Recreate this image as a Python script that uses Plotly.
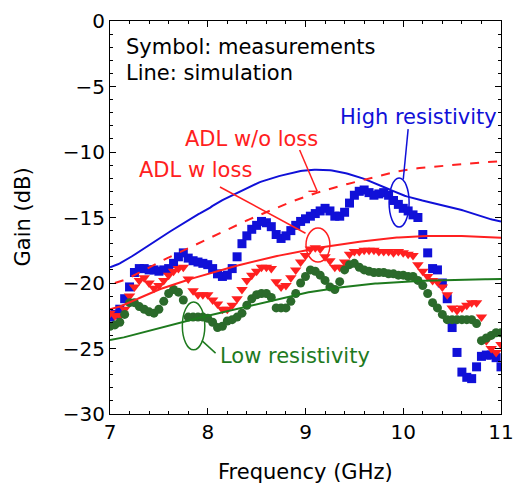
import numpy as np
import plotly.graph_objects as go

# ---------------- data ----------------
freq_meas = [round(7.0 + 0.05 * i, 2) for i in range(81)]

high_meas = [-22.6, -22.4, -22.0, -21.2, -20.3, -19.2, -18.9, -18.9, -19.0, -19.0,
             -19.1, -19.0, -18.9, -18.5, -18.0, -17.7, -18.1, -18.3, -18.4, -18.5,
             -18.6, -18.9, -19.3, -19.5, -19.4, -18.9, -18.0, -17.0, -16.4, -15.9,
             -15.6, -15.3, -15.4, -15.7, -16.3, -16.6, -16.4, -16.0, -15.6, -15.3,
             -15.1, -14.9, -14.7, -14.5, -14.3, -14.5, -14.9, -14.9, -14.6, -13.9,
             -13.3, -13.0, -12.9, -13.1, -13.3, -13.2, -13.1, -13.3, -13.7, -14.0,
             -14.3, -14.5, -14.8, -15.0, -16.3, -17.7, -18.9, -19.0, -20.0, -21.2,
             -23.4, -25.3, -26.8, -27.2, -27.3, -26.4, -25.6, -25.5, -25.5, -25.7,
             -26.4]

wloss_meas = [-22.3, -22.5, -22.5, -22.0, -21.0, -20.3, -19.8, -19.6, -20.0, -20.4,
              -20.2, -19.8, -19.4, -19.1, -18.9, -18.8, -19.7, -20.6, -20.9, -20.9,
              -20.9, -21.3, -21.6, -22.0, -22.0, -21.7, -21.2, -20.5, -19.8, -19.4,
              -19.1, -18.8, -18.8, -18.9, -19.9, -20.3, -20.2, -19.6, -19.0, -18.4,
              -17.9, -17.4, -17.3, -17.4, -18.0, -18.3, -18.8, -18.8, -18.4, -17.8,
              -17.6, -17.6, -17.5, -17.5, -17.5, -17.6, -17.6, -17.6, -17.7, -17.6,
              -17.7, -17.8, -17.9, -18.6, -19.1, -19.5, -19.8, -19.9, -20.3, -20.9,
              -21.9, -22.1, -21.9, -21.7, -21.5, -21.5, -22.6, -24.4, -25.0, -25.3,
              -24.7]

low_meas = [-23.3, -23.2, -23.0, -22.4, -21.5, -21.5, -21.8, -22.0, -22.2, -22.3,
            -22.0, -21.4, -20.8, -20.5, -20.7, -21.3, -22.6, -22.6, -22.6, -22.6,
            -22.7, -23.0, -23.4, -23.3, -22.9, -22.8, -22.6, -22.3, -21.7, -21.2,
            -20.9, -20.8, -20.8, -21.1, -21.9, -21.9, -21.9, -21.4, -20.8, -20.0,
            -19.5, -19.0, -19.1, -19.4, -19.8, -20.3, -20.5, -19.9, -19.0, -18.6,
            -18.5, -18.8, -19.0, -19.1, -19.2, -19.2, -19.2, -19.3, -19.3, -19.4,
            -19.4, -19.5, -19.5, -19.8, -20.2, -20.8, -21.5, -21.9, -22.4, -22.8,
            -22.8, -22.8, -22.8, -22.8, -22.8, -23.1, -24.4, -24.2, -24.0, -23.8,
            -23.8]

freq_sim_high = [7.0, 7.5, 8.0, 8.25, 8.5, 8.75, 9.0, 9.25, 9.5, 9.75, 10.0, 10.25, 10.5, 10.75, 11.0]
high_sim = [-18.8, -16.6, -14.4, -13.3, -12.4, -11.8, -11.4, -11.4, -11.8, -12.5, -13.3, -13.8, -14.2, -14.8, -15.3]

freq_sim_woloss = [7.05, 7.5, 8.0, 8.5, 9.0, 9.5, 10.0, 10.5, 11.0]
woloss_sim = [-20.0, -18.4, -16.6, -14.9, -13.4, -12.3, -11.4, -11.0, -10.7]

freq_sim = [7.0, 7.5, 8.0, 8.5, 9.0, 9.5, 10.0, 10.5, 11.0]
wloss_sim = [-22.0, -20.5, -19.3, -18.3, -17.5, -16.9, -16.5, -16.4, -16.55]
low_sim = [-24.35, -23.4, -22.5, -21.6, -20.75, -20.2, -19.9, -19.75, -19.7]

x_ticks = [7, 8, 9, 10, 11]
y_ticks = [0, -5, -10, -15, -20, -25, -30]

BLUE = "#1010d8"
RED = "#ff2020"
GREEN = "#1e7a1e"
GREEN_PT = "#2b6a2b"

FONT = "DejaVu Sans, sans-serif"


def smooth(xs, ys, n=200):
    xs = np.asarray(xs, float)
    ys = np.asarray(ys, float)
    xx = np.linspace(xs[0], xs[-1], n)
    out = []
    for xv in xx:
        i = min(max(np.searchsorted(xs, xv) - 1, 0), len(xs) - 2)
        p0 = ys[i - 1] if i > 0 else ys[i]
        p1, p2 = ys[i], ys[i + 1]
        p3 = ys[i + 2] if i + 2 < len(ys) else ys[i + 1]
        t = (xv - xs[i]) / (xs[i + 1] - xs[i])
        out.append(0.5 * ((2 * p1) + (-p0 + p2) * t + (2 * p0 - 5 * p1 + 4 * p2 - p3) * t * t
                          + (-p0 + 3 * p1 - 3 * p2 + p3) * t ** 3))
    return xx, out


fig = go.Figure()

# measurements
fig.add_trace(go.Scatter(x=freq_meas, y=high_meas, mode="markers",
                         marker=dict(symbol="square", size=9, color=BLUE), showlegend=False))
fig.add_trace(go.Scatter(x=freq_meas, y=wloss_meas, mode="markers",
                         marker=dict(symbol="triangle-down", size=10, color=RED), showlegend=False))
fig.add_trace(go.Scatter(x=freq_meas, y=low_meas, mode="markers",
                         marker=dict(symbol="circle", size=9, color=GREEN_PT), showlegend=False))

# simulations
for fx, fy, col, dash in [(freq_sim_high, high_sim, BLUE, "solid"),
                          (freq_sim_woloss, woloss_sim, RED, "dash"),
                          (freq_sim, wloss_sim, RED, "solid"),
                          (freq_sim, low_sim, GREEN, "solid")]:
    sx, sy = smooth(fx, fy)
    fig.add_trace(go.Scatter(x=sx, y=sy, mode="lines",
                             line=dict(color=col, width=2, dash=dash), showlegend=False))

shapes = [
    dict(type="line", x0=10.05, y0=-8.25, x1=10.0, y1=-12.1, line=dict(color=BLUE, width=1.5)),
    dict(type="circle", x0=9.855, x1=10.06, y0=-11.98, y1=-15.73, line=dict(color=BLUE, width=1.5)),
    dict(type="line", x0=8.94, y0=-9.85, x1=9.12, y1=-13.0, line=dict(color=RED, width=1.5)),
    dict(type="line", x0=9.03, y0=-13.0, x1=9.12, y1=-13.0, line=dict(color=RED, width=1.5)),
    dict(type="line", x0=8.125, y0=-12.67, x1=9.0, y1=-16.2, line=dict(color=RED, width=1.5)),
    dict(type="circle", x0=9.005, x1=9.25, y0=-15.8, y1=-18.4, line=dict(color=RED, width=1.5)),
    dict(type="circle", x0=7.74, x1=7.97, y0=-21.45, y1=-25.1, line=dict(color=GREEN, width=1.5)),
    dict(type="line", x0=7.94, y0=-24.4, x1=8.08, y1=-25.35, line=dict(color=GREEN, width=1.5)),
]

annos = [
    dict(x=7.14, y=-2.0, text="Symbol: measurements", xanchor="left", font=dict(size=21, color="black")),
    dict(x=7.14, y=-4.0, text="Line: simulation", xanchor="left", font=dict(size=21, color="black")),
    dict(x=10.98, y=-7.3, text="High resistivity", xanchor="right", font=dict(size=21, color=BLUE)),
    dict(x=8.45, y=-9.0, text="ADL w/o loss", xanchor="center", font=dict(size=21, color=RED)),
    dict(x=7.87, y=-11.4, text="ADL w loss", xanchor="center", font=dict(size=21, color=RED)),
    dict(x=8.1, y=-25.6, text="Low resistivity", xanchor="left", font=dict(size=21, color=GREEN)),
]
for a in annos:
    a.update(showarrow=False, xref="x", yref="y", yanchor="middle")

annos.append(dict(x=0.5, y=0, xref="paper", yref="paper", xanchor="center", yanchor="top",
                  yshift=-44, showarrow=False, text="Frequency (GHz)",
                  font=dict(size=21, color="black")))
annos.append(dict(x=0, y=0.5, xref="paper", yref="paper", xanchor="center", yanchor="middle",
                  xshift=-88, showarrow=False, text="Gain (dB)", textangle=-90,
                  font=dict(size=21, color="black")))

axis_common = dict(showline=True, linecolor="black", linewidth=1, mirror="ticks",
                   ticks="inside", ticklen=6, tickcolor="black", showgrid=False, zeroline=False,
                   automargin=False, ticklabeloverflow="allow",
                   tickfont=dict(size=20, color="black", family=FONT))

fig.update_layout(
    width=513, height=484,
    margin=dict(l=110, r=12, t=21, b=70),
    paper_bgcolor="white", plot_bgcolor="white",
    font=dict(family=FONT, color="black"),
    shapes=shapes, annotations=annos,
    xaxis=dict(range=[7, 11], tickvals=x_ticks, ticktext=[str(v) for v in x_ticks],
               minor=dict(dtick=0.2, ticks="inside", ticklen=3, tickcolor="black"),
               **axis_common),
    yaxis=dict(range=[-30, 0], tickvals=y_ticks,
               minor=dict(dtick=1, ticks="inside", ticklen=3, tickcolor="black"),
               **axis_common),
)

fig.write_html("out.html")
